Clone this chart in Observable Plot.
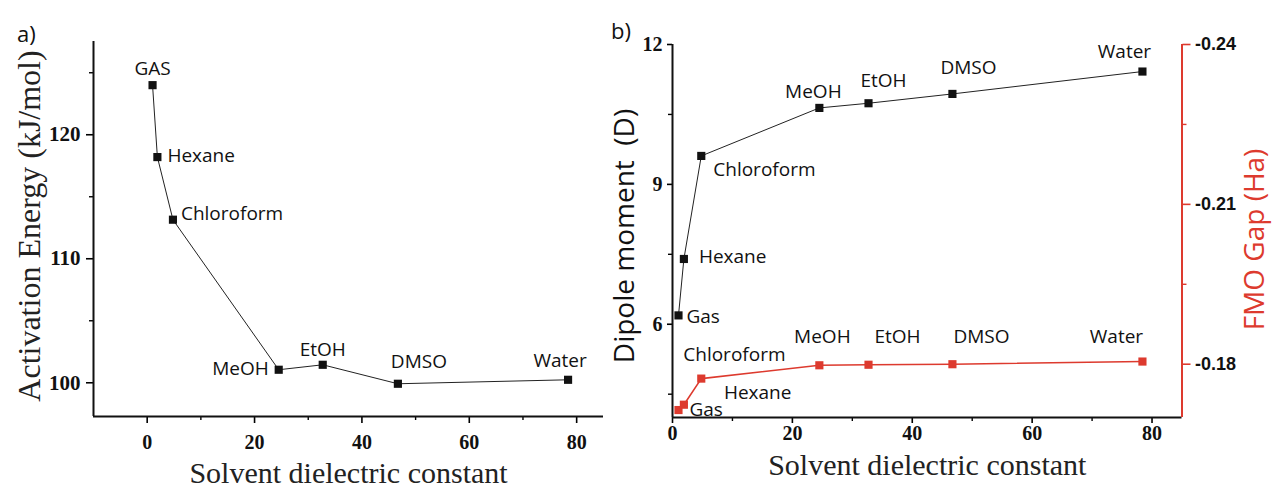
<!DOCTYPE html>
<html><head><meta charset="utf-8">
<script src="https://cdn.jsdelivr.net/npm/d3@7"></script>
<script src="https://cdn.jsdelivr.net/npm/@observablehq/plot@0.6"></script>
<style>
body{margin:0;background:#fff;width:1272px;height:494px;position:relative;overflow:hidden;}
.panel{position:absolute;top:0;}
.tag{position:absolute;font-family:"Open Sans","Noto Sans",sans-serif;font-size:22px;color:#111;line-height:1;}
svg text{white-space:pre;}
</style></head><body>
<div id="pa" class="panel" style="left:0"></div>
<div id="pb" class="panel" style="left:600px"></div>
<div id="pb2" class="panel" style="left:600px"></div>
<span class="tag" style="left:17px;top:22px">a)</span>
<span class="tag" style="left:611px;top:19px">b)</span>
<script>
// ---- data ----
const solventsA = ["GAS", "Hexane", "Chloroform", "MeOH", "EtOH", "DMSO", "Water"];
const solventsB = ["Gas", "Hexane", "Chloroform", "MeOH", "EtOH", "DMSO", "Water"];
const dielectric = [1.0, 1.9, 4.8, 24.5, 32.7, 46.7, 78.4];
const activationEnergy = [124.0, 118.2, 113.15, 101.05, 101.45, 99.92, 100.24];
const dipoleMoment = [6.19, 7.40, 9.61, 10.64, 10.74, 10.94, 11.42];
const fmoGap = [-0.1714, -0.1724, -0.1773, -0.1798, -0.1799, -0.1800, -0.1805];
const xTicks = [0, 20, 40, 60, 80];
const xMinorTicks = [10, 30, 50, 70];
const eaTicks = [100, 110, 120];
const eaMinorTicks = [105, 115, 125];
const dipoleTicks = [6, 9, 12];
const dipoleMinorTicks = [4.5, 7.5, 10.5];
const gapTicks = [-0.24, -0.21, -0.18];
const gapMinorTicks = [-0.225, -0.195];

// ---- label placement (layout only) ----
const placeA = {GAS:[0,-16,"middle"], Hexane:[10,-1,"start"], Chloroform:[8,-6,"start"], MeOH:[-10,-1,"end"], EtOH:[0,-15,"middle"], DMSO:[21,-22,"middle"], Water:[-8,-19,"middle"]};
const placeB = {Gas:[8,2,"start"], Hexane:[15,-2,"start"], Chloroform:[12,14,"start"], MeOH:[-6,-16,"middle"], EtOH:[15,-22,"middle"], DMSO:[16,-26,"middle"], Water:[-18,-20,"middle"]};
const placeR = {Gas:[11,0,"start"], Hexane:[40,-12,"start"], Chloroform:[-18,-24,"start"], MeOH:[3,-28,"middle"], EtOH:[29,-28,"middle"], DMSO:[29,-27,"middle"], Water:[-26,-25,"middle"]};

const serif = '"Liberation Serif","Times New Roman",serif';
const sans = '"Open Sans","Noto Sans",sans-serif';
const arial = '"Liberation Sans",Arial,sans-serif';
const red = "#dd3a2e";

const rowsA = solventsA.map((s, i) => ({s, x: dielectric[i], y: activationEnergy[i]}));
const rowsB = solventsB.map((s, i) => ({s, x: dielectric[i], y: dipoleMoment[i]}));
const rowsR = solventsB.map((s, i) => ({s, x: dielectric[i], y: fmoGap[i]}));

function labels(rows, place, fill) {
  return rows.map(r => Plot.text([r], {x: "x", y: "y", text: "s", dx: place[r.s][0], dy: place[r.s][1], textAnchor: place[r.s][2], fontFamily: sans, fontSize: 19, fill}));
}

// ---- panel a ----
const eaDom = [97.28, 127.52];
const plotA = Plot.plot({
  width: 620, height: 494, marginLeft: 93, marginRight: 17, marginTop: 41, marginBottom: 78,
  x: {domain: [-10, 85]}, y: {domain: eaDom},
  style: {background: "transparent", overflow: "visible"},
  marks: [
    Plot.axisX({ticks: xTicks, tickSize: 7, tickPadding: 11, strokeWidth: 1.6, label: null, fontSize: 20, fontWeight: "bold", fontFamily: serif, fill: "#111"}),
    Plot.axisX({ticks: xMinorTicks, tickSize: 4, strokeWidth: 1.4, tickFormat: () => "", label: null}),
    Plot.axisY({ticks: eaTicks, tickSize: 7, tickPadding: 6, strokeWidth: 1.6, label: null, fontSize: 21, fontWeight: "bold", fontFamily: serif, fill: "#111"}),
    Plot.axisY({ticks: eaMinorTicks, tickSize: 4, strokeWidth: 1.4, tickFormat: () => "", label: null}),
    Plot.ruleY([eaDom[0]], {stroke: "#111", strokeWidth: 2}),
    Plot.ruleX([-10], {stroke: "#111", strokeWidth: 2}),
    Plot.line(rowsA, {x: "x", y: "y", stroke: "#222", strokeWidth: 1}),
    Plot.dot(rowsA, {x: "x", y: "y", symbol: "square", r: 4.6, fill: "#111", stroke: null}),
    ...labels(rowsA, placeA, "#111"),
    Plot.text(["Solvent dielectric constant"], {frameAnchor: "bottom", lineAnchor: "middle", textAnchor: "middle", dy: 57, fontFamily: serif, fontSize: 30, fill: "#222"}),
    Plot.text(["Activation Energy (kJ/mol)"], {frameAnchor: "left", lineAnchor: "middle", textAnchor: "middle", rotate: -90, dx: -64, dy: -3, fontFamily: serif, fontSize: 32, fill: "#222"})
  ]
});
document.getElementById("pa").append(plotA);

// ---- panel b (left axis: dipole) ----
const dipDom = [4, 12];
const plotB = Plot.plot({
  width: 672, height: 494, marginLeft: 72, marginRight: 90.5, marginTop: 44, marginBottom: 77,
  x: {domain: [0, 85]}, y: {domain: dipDom},
  style: {background: "transparent", overflow: "visible"},
  marks: [
    Plot.axisX({ticks: xTicks, tickSize: 6, tickPadding: 2, strokeWidth: 1.6, label: null, fontSize: 20, fontWeight: "bold", fontFamily: serif, fill: "#111"}),
    Plot.axisX({ticks: xMinorTicks, tickSize: 4, strokeWidth: 1.4, tickFormat: () => "", label: null}),
    Plot.axisY({ticks: dipoleTicks, tickSize: 5, tickPadding: 5, strokeWidth: 1.6, label: null, fontSize: 20, fontWeight: "bold", fontFamily: serif, fill: "#111"}),
    Plot.axisY({ticks: dipoleMinorTicks, tickSize: 4, strokeWidth: 1.4, tickFormat: () => "", label: null}),
    Plot.ruleY([dipDom[0]], {stroke: "#111", strokeWidth: 2}),
    Plot.ruleX([0], {stroke: "#111", strokeWidth: 2}),
    Plot.line(rowsB, {x: "x", y: "y", stroke: "#222", strokeWidth: 1}),
    Plot.dot(rowsB, {x: "x", y: "y", symbol: "square", r: 4.6, fill: "#111", stroke: null}),
    ...labels(rowsB, placeB, "#111"),
    Plot.text(["Solvent dielectric constant"], {frameAnchor: "bottom", lineAnchor: "middle", textAnchor: "middle", dy: 48, fontFamily: serif, fontSize: 30, fill: "#222"}),
    Plot.text(["Dipole moment  (D)"], {frameAnchor: "left", lineAnchor: "middle", textAnchor: "middle", rotate: -90, dx: -47, dy: 5, fontFamily: sans, fontSize: 28, fill: "#111"})
  ]
});
document.getElementById("pb").append(plotB);

// ---- panel b overlay (right axis: FMO gap) ----
const gapDom = [-0.17, -0.24];
const plotR = Plot.plot({
  width: 672, height: 494, marginLeft: 72, marginRight: 90.5, marginTop: 44, marginBottom: 77,
  x: {domain: [0, 85], axis: null}, y: {domain: gapDom},
  style: {background: "transparent", overflow: "visible"},
  marks: [
    Plot.axisY({anchor: "right", ticks: gapTicks, tickSize: 8, tickPadding: 5, strokeWidth: 1.6, stroke: red, fill: "#111", tickFormat: d => d.toFixed(2), label: null, fontSize: 18, fontWeight: "bold", fontFamily: arial}),
    Plot.axisY({anchor: "right", ticks: gapMinorTicks, tickSize: 4, strokeWidth: 1.4, stroke: red, tickFormat: () => "", label: null}),
    Plot.ruleX([85], {stroke: red, strokeWidth: 2}),
    Plot.line(rowsR, {x: "x", y: "y", stroke: red, strokeWidth: 1.6}),
    Plot.dot(rowsR, {x: "x", y: "y", symbol: "square", r: 4.6, fill: red, stroke: null}),
    ...labels(rowsR, placeR, "#111"),
    Plot.text(["FMO Gap (Ha)"], {frameAnchor: "right", lineAnchor: "middle", textAnchor: "middle", rotate: -90, dx: 73.5, dy: 8.5, fontFamily: sans, fontSize: 28, fill: red})
  ]
});
document.getElementById("pb2").append(plotR);
</script>
</body></html>
